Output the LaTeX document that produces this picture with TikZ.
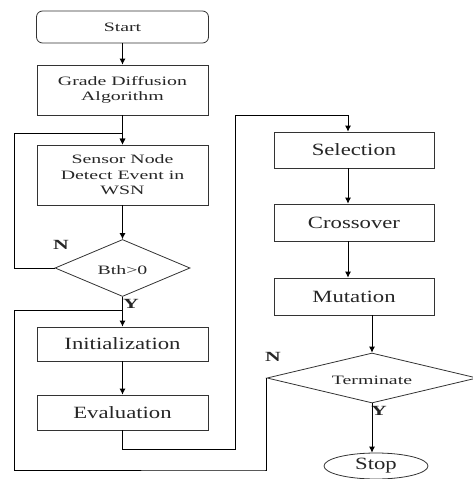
\documentclass[tikz,border=0pt]{standalone}
\usepackage{fontspec}
\setmainfont{Liberation Serif}
\newfontfamily\fa[FakeStretch=1.55]{Liberation Serif}
\newfontfamily\fb[FakeStretch=1.32]{Liberation Serif}
\usetikzlibrary{arrows.meta,shapes.geometric}
\begin{document}
\begin{tikzpicture}[x=1pt,y=-1pt,
  line width=0.8pt,
  txa/.style={font=\fa\fontsize{12.8}{15.5}\selectfont,align=center,text=black!85},
  txb/.style={font=\fb\fontsize{17.2}{19}\selectfont,align=center,text=black!85},
  box/.style={draw=black!80,rectangle,inner sep=0pt},
  dec/.style={draw=black!80,diamond,aspect=2.4,inner sep=0pt},
  lbl/.style={font=\fa\bfseries\fontsize{14}{14}\selectfont,text=black!85,inner sep=0pt},
  flow/.style={draw=black,-{Latex[length=6pt,width=6pt]}},
  wire/.style={draw=black}]
\useasboundingbox (0,0) rectangle (472,479);
\node[box,txa,rounded corners=6pt,minimum width=172pt,minimum height=32pt] (start) at (122.5,27) {Start};
\node[box,txa,minimum width=171pt,minimum height=50pt] (gda) at (122.5,90) {Grade Diffusion\\Algorithm};
\node[box,txa,minimum width=171pt,minimum height=60pt] (sensor) at (122.5,175) {Sensor Node\\Detect Event in\\WSN};
\node[dec,txa,minimum width=135pt,minimum height=57pt] (bth) at (122.5,268) {};
\node[txa] at (122.5,270) {Bth>0};
\node[box,txb,minimum width=171pt,minimum height=34pt] (init) at (122.5,344) {Initialization};
\node[box,txb,minimum width=171pt,minimum height=35pt] (eval) at (122.5,412.5) {Evaluation};
\node[box,txb,minimum width=160pt,minimum height=36pt] (sel) at (354,150) {Selection};
\node[box,txb,minimum width=160pt,minimum height=37pt] (cross) at (354,222.5) {Crossover};
\node[box,txb,minimum width=160pt,minimum height=37pt] (mut) at (354,296.5) {Mutation};
\node[dec,minimum width=210pt,minimum height=50pt] (term) at (372,378) {};
\node[txa] at (372,380) {Terminate};
\node[draw=black!80,ellipse,txb,minimum width=104pt,minimum height=26pt,inner sep=0pt] (stop) at (376,466) {Stop};
\node[lbl] (n1) at (61,245) {N};
\node[lbl] (y1) at (131,304) {Y};
\node[lbl] (n2) at (273,357) {N};
\node[lbl] (y2) at (379,411) {Y};
\coordinate (colx) at (348,0);
\coordinate (loopA) at (14,133);
\coordinate (loopB) at (14,310);
\coordinate (loopC) at (14,470);
\coordinate (loopD) at (265,470);
\coordinate (evA) at (122.5,449);
\coordinate (evB) at (235,449);
\coordinate (evC) at (235,115);
\draw[flow] (start) -- (gda);
\draw[flow] (gda) -- (sensor);
\draw[flow] (sensor) -- (bth.north);
\draw[flow] (bth.west) -| (loopA) -- (loopA -| sensor.north) -- (sensor.north);
\draw[flow] (bth.south) -- (init.north);
\draw[wire] (term.west) |- (loopD) -- (loopC) -- (loopB) -- (loopB -| init.north);
\draw[flow] (init) -- (eval);
\draw[flow] (eval.south) -- (evA) -- (evB) -- (evC) -- (evC -| colx) -- (sel.north -| colx);
\draw[flow] (sel.south -| colx) -- (cross.north -| colx);
\draw[flow] (cross.south -| colx) -- (mut.north -| colx);
\draw[flow] (mut.south -| term.north) -- (term.north);
\draw[flow] (term.south) -- (term.south |- stop.north);
\end{tikzpicture}
\end{document}
